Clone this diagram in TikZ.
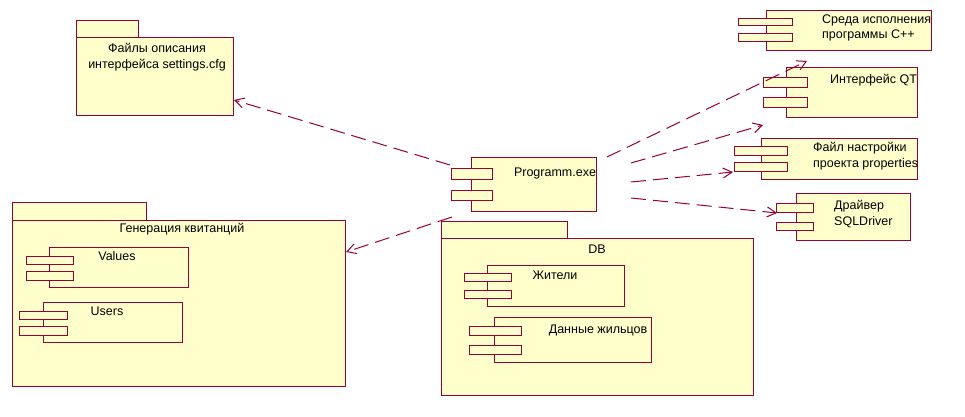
\documentclass[tikz,border=0pt]{standalone}
\usepackage{fontspec}
\setmainfont{Liberation Sans}
\usetikzlibrary{arrows.meta}
\definecolor{linec}{RGB}{153,0,51}
\definecolor{fillc}{RGB}{255,255,204}
\tikzset{
  box/.style={draw=linec, fill=fillc, line width=1pt, rectangle, inner sep=0pt, anchor=north west},
  dep/.style={draw=linec, line width=1pt, dash pattern=on 15pt off 7pt,
              -{Straight Barb[length=9pt,width=10pt,line width=1pt]}},
  lbl/.style={font=\fontsize{12.5}{15.5}\selectfont, text=black, inner sep=0pt},
}
% rectangle node from its top-left and bottom-right corners
\newcommand{\rbox}[5]{\node[box, minimum width={(#4)-(#2)}, minimum height={(#5)-(#3)}] (#1) at (#2,#3) {};}
\begin{document}
\begin{tikzpicture}[x=1pt,y=-1pt]
\useasboundingbox (0,0) rectangle (965,417);

% package: interface description files
\rbox{cfgtab}{76}{20}{138}{37}
\rbox{cfg}{76}{37}{233}{115}
\node[lbl, align=center] (cfgtxt) at (157,57) {Файлы описания\\интерфейса settings.cfg};

% main executable
\rbox{prog}{471}{157}{596}{211}
\rbox{progA}{451}{168}{492}{179}
\rbox{progB}{451}{190}{492}{200}
\node[lbl] (progtxt) at (555,173) {Programm.exe};

% C++ runtime
\rbox{rt}{766}{10}{931}{50}
\rbox{rtA}{738}{18}{792}{25}
\rbox{rtB}{738}{33}{792}{41}
\node[lbl, align=left, anchor=west] (rttxt) at (822,28) {Среда исполнения\\программы С++};

% Qt interface
\rbox{qt}{786}{67}{917}{117}
\rbox{qtA}{763}{77}{807}{87}
\rbox{qtB}{763}{97}{807}{107}
\node[lbl, anchor=west] (qttxt) at (830,80) {Интерфейс QT};

% project properties file
\rbox{prop}{761}{138}{917}{179}
\rbox{propA}{734}{146}{787}{155}
\rbox{propB}{734}{162}{787}{171}
\node[lbl, align=left, anchor=west] (proptxt) at (813,156) {Файл настройки\\проекта properties};

% SQL driver
\rbox{sql}{796}{193}{910}{240}
\rbox{sqlA}{776}{203}{813}{212}
\rbox{sqlB}{776}{222}{813}{230}
\node[lbl, align=left, anchor=west] (sqltxt) at (834,214) {Драйвер\\SQLDriver};

% package: receipt generation
\rbox{gentab}{12}{202}{146}{220}
\rbox{gen}{12}{220}{345}{386}
\node[lbl] (gentxt) at (182,229) {Генерация квитанций};
\rbox{val}{49}{247}{188}{287}
\rbox{valA}{26}{256}{73}{264}
\rbox{valB}{26}{271}{73}{280}
\node[lbl] (valtxt) at (117,256) {Values};
\rbox{usr}{43}{302}{182}{342}
\rbox{usrA}{19}{311}{67}{319}
\rbox{usrB}{19}{326}{67}{335}
\node[lbl] (usrtxt) at (107,311) {Users};

% package: database
\rbox{dbtab}{441}{221}{567}{238}
\rbox{db}{441}{238}{753}{395}
\node[lbl] (dbtxt) at (597,249) {DB};
\rbox{res}{487}{265}{624}{306}
\rbox{resA}{464}{273}{511}{281}
\rbox{resB}{464}{290}{511}{298}
\node[lbl] (restxt) at (555,275) {Жители};
\rbox{dat}{494}{317}{651}{362}
\rbox{datA}{469}{326}{521}{335}
\rbox{datB}{469}{345}{521}{354}
\node[lbl] (dattxt) at (598,330) {Данные жильцов};

% dependency end points
\coordinate (s1) at (450,165);
\coordinate (t1) at (234,100);
\coordinate (s2) at (452,217);
\coordinate (t2) at (346,252);
\coordinate (s3) at (607,157);
\coordinate (t3) at (807,61);
\coordinate (s4) at (631,163);
\coordinate (t4) at (763,125);
\coordinate (s5) at (631,182);
\coordinate (t5) at (733,172);
\coordinate (s6) at (631,198);
\coordinate (t6) at (777,213);

\draw[dep] (s1) -- (t1);
\draw[dep] (s2) -- (t2);
\draw[dep] (s3) -- (t3);
\draw[dep] (s4) -- (t4);
\draw[dep] (s5) -- (t5);
\draw[dep] (s6) -- (t6);
\end{tikzpicture}
\end{document}
